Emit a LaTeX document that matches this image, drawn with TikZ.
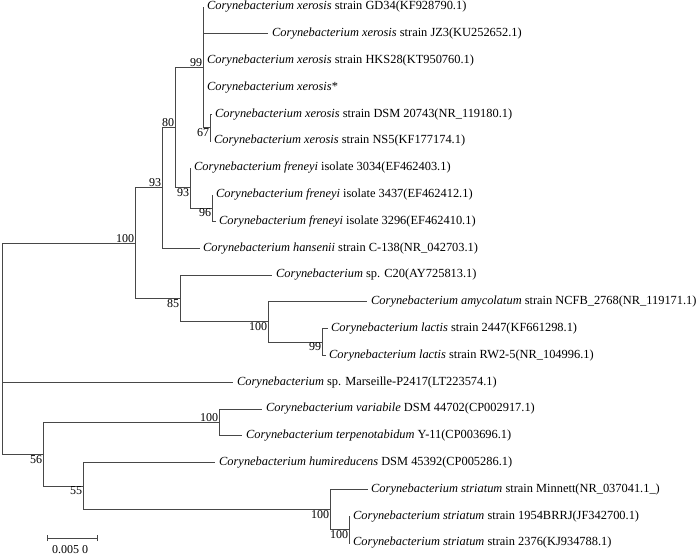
\documentclass[tikz,border=0pt]{standalone}
\usepackage{fontspec}
\setmainfont{Liberation Serif}
\begin{document}
\begin{tikzpicture}[x=1pt,y=-1pt,
  branch/.style={line width=0.9pt, draw=black!72},
  leaf/.style={anchor=west, inner sep=0pt, font=\fontsize{12.4}{14}\selectfont},
  bsup/.style={anchor=south east, inner sep=0.8pt, font=\fontsize{12}{13}\selectfont},
  bsdn/.style={anchor=north east, inner sep=0.8pt, font=\fontsize{12}{13}\selectfont},
  sbar/.style={line width=0.8pt, draw=black!72}]
\useasboundingbox (0,0) rectangle (700,555);
\def\C{\textit{Corynebacterium}}
% internal nodes
\coordinate (root) at (2,348.7);
\coordinate (n100a) at (135,243.2);
\coordinate (n93a) at (162,187.9);
\coordinate (n80) at (175,127.6);
\coordinate (n99a) at (203,67.3);
\coordinate (n67) at (210,127.6);
\coordinate (n93b) at (190,187.9);
\coordinate (n96) at (212,208);
\coordinate (n85) at (180,298.4);
\coordinate (n100b) at (268,321.9);
\coordinate (n99b) at (322,342);
\coordinate (n56) at (43,454.2);
\coordinate (n100c) at (219,422.4);
\coordinate (n55) at (83,486);
\coordinate (n100d) at (330,509.5);
\coordinate (n100e) at (349,529.6);
% leaf tips
\coordinate (tGD) at (203,7);
\coordinate (tJZ) at (268,33.8);
\coordinate (tHK) at (203,60.6);
\coordinate (tXS) at (203,87.4);
\coordinate (tDSM) at (212,114.2);
\coordinate (tNS) at (211,141);
\coordinate (tF1) at (190,167.8);
\coordinate (tF2) at (212,194.6);
\coordinate (tF3) at (216,221.4);
\coordinate (tHa) at (200,248.2);
\coordinate (tC20) at (272,275);
\coordinate (tAm) at (367,301.8);
\coordinate (tL1) at (328,328.6);
\coordinate (tL2) at (326,355.4);
\coordinate (tMa) at (233,382.2);
\coordinate (tVa) at (262,409);
\coordinate (tTe) at (242,435.8);
\coordinate (tHu) at (215,462.6);
\coordinate (tMi) at (368,489.4);
\coordinate (tS1) at (350,516.2);
\coordinate (tS2) at (350,543);
% branches
\draw[branch] (root) |- (n100a);
\draw[branch] (root) |- (tMa);
\draw[branch] (root) |- (n56);
\draw[branch] (n100a) |- (n93a);
\draw[branch] (n100a) |- (n85);
\draw[branch] (n93a) |- (n80);
\draw[branch] (n93a) |- (tHa);
\draw[branch] (n80) |- (n99a);
\draw[branch] (n80) |- (n93b);
\draw[branch] (n99a) |- (tGD);
\draw[branch] (n99a) |- (tJZ);
\draw[branch] (n99a) |- (tHK);
\draw[branch] (n99a) |- (tXS);
\draw[branch] (n99a) |- (n67);
\draw[branch] (n67) |- (tDSM);
\draw[branch] (n67) |- (tNS);
\draw[branch] (n93b) |- (tF1);
\draw[branch] (n93b) |- (n96);
\draw[branch] (n96) |- (tF2);
\draw[branch] (n96) |- (tF3);
\draw[branch] (n85) |- (tC20);
\draw[branch] (n85) |- (n100b);
\draw[branch] (n100b) |- (tAm);
\draw[branch] (n100b) |- (n99b);
\draw[branch] (n99b) |- (tL1);
\draw[branch] (n99b) |- (tL2);
\draw[branch] (n56) |- (n100c);
\draw[branch] (n56) |- (n55);
\draw[branch] (n100c) |- (tVa);
\draw[branch] (n100c) |- (tTe);
\draw[branch] (n55) |- (tHu);
\draw[branch] (n55) |- (n100d);
\draw[branch] (n100d) |- (tMi);
\draw[branch] (n100d) |- (n100e);
\draw[branch] (n100e) |- (tS1);
\draw[branch] (n100e) |- (tS2);
% leaf labels
\node[leaf] (lGD) at ([xshift=4]tGD) {\C\ \textit{xerosis} strain GD34(KF928790.1)};
\node[leaf] (lJZ) at ([xshift=4]tJZ) {\C\ \textit{xerosis} strain JZ3(KU252652.1)};
\node[leaf] (lHK) at ([xshift=4]tHK) {\C\ \textit{xerosis} strain HKS28(KT950760.1)};
\node[leaf] (lXS) at ([xshift=4]tXS) {\C\ \textit{xerosis}*};
\node[leaf] (lDSM) at ([xshift=3]tDSM) {\C\ \textit{xerosis} strain DSM 20743(NR\_119180.1)};
\node[leaf] (lNS) at ([xshift=3]tNS) {\C\ \textit{xerosis} strain NS5(KF177174.1)};
\node[leaf] (lF1) at ([xshift=4]tF1) {\C\ \textit{freneyi} isolate 3034(EF462403.1)};
\node[leaf] (lF2) at ([xshift=4]tF2) {\C\ \textit{freneyi} isolate 3437(EF462412.1)};
\node[leaf] (lF3) at ([xshift=3]tF3) {\C\ \textit{freneyi} isolate 3296(EF462410.1)};
\node[leaf] (lHa) at ([xshift=3]tHa) {\C\ \textit{hansenii} strain C-138(NR\_042703.1)};
\node[leaf] (lC20) at ([xshift=4]tC20) {\C\ sp. C20(AY725813.1)};
\node[leaf] (lAm) at ([xshift=4]tAm) {\C\ \textit{amycolatum} strain NCFB\_2768(NR\_119171.1)};
\node[leaf] (lL1) at ([xshift=3]tL1) {\C\ \textit{lactis} strain 2447(KF661298.1)};
\node[leaf] (lL2) at ([xshift=3]tL2) {\C\ \textit{lactis} strain RW2-5(NR\_104996.1)};
\node[leaf] (lMa) at ([xshift=4]tMa) {\C\ sp. Marseille-P2417(LT223574.1)};
\node[leaf] (lVa) at ([xshift=4]tVa) {\C\ \textit{variabile} DSM 44702(CP002917.1)};
\node[leaf] (lTe) at ([xshift=4]tTe) {\C\ \textit{terpenotabidum} Y-11(CP003696.1)};
\node[leaf] (lHu) at ([xshift=4]tHu) {\C\ \textit{humireducens} DSM 45392(CP005286.1)};
\node[leaf] (lMi) at ([xshift=3]tMi) {\C\ \textit{striatum} strain Minnett(NR\_037041.1\_)};
\node[leaf] (lS1) at ([xshift=3]tS1) {\C\ \textit{striatum} strain 1954BRRJ(JF342700.1)};
\node[leaf] (lS2) at ([xshift=3]tS2) {\C\ \textit{striatum} strain 2376(KJ934788.1)};
% bootstrap values
\node[bsup] (b99a) at (n99a) {99};
\node[bsdn] (b67) at (n67) {67};
\node[bsup] (b80) at (n80) {80};
\node[bsdn] (b93b) at (n93b) {93};
\node[bsdn] (b96) at (n96) {96};
\node[bsup] (b93a) at (n93a) {93};
\node[bsup] (b100a) at (n100a) {100};
\node[bsdn] (b85) at (n85) {85};
\node[bsdn] (b100b) at (n100b) {100};
\node[bsdn] (b99b) at (n99b) {99};
\node[bsup] (b100c) at (n100c) {100};
\node[bsdn] (b56) at (n56) {56};
\node[bsdn] (b55) at (n55) {55};
\node[bsdn] (b100d) at (n100d) {100};
\node[bsdn] (b100e) at (n100e) {100};
% scale bar
\coordinate (sbL) at (47,538);
\coordinate (sbR) at (97,538);
\draw[sbar] (sbL) -- (sbR);
\draw[sbar] ([yshift=-3]sbL) -- ([yshift=3]sbL);
\draw[sbar] ([yshift=-3]sbR) -- ([yshift=3]sbR);
\node[font=\fontsize{12}{13}\selectfont, inner sep=0pt] (sbT) at (70,550) {0.005 0};
\end{tikzpicture}
\end{document}
